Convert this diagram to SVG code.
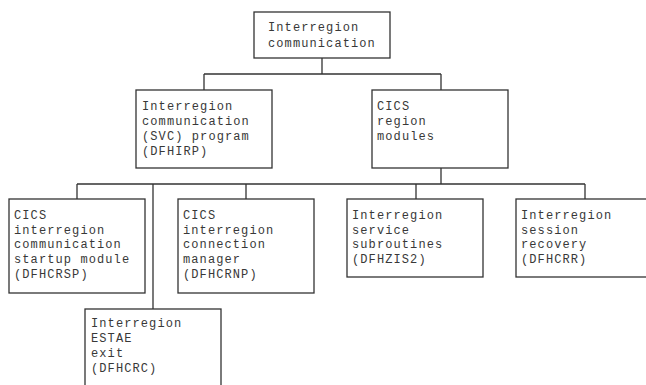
<svg xmlns="http://www.w3.org/2000/svg" width="646" height="385" viewBox="0 0 646 385">
<style>
.box{fill:#fff;stroke:#333;stroke-width:1.3}
.c{fill:none;stroke:#333;stroke-width:1.3}
text{font-family:"Liberation Mono","DejaVu Sans Mono",monospace;font-size:12px;letter-spacing:1.1px;fill:#383838}
</style>
<rect width="646" height="385" fill="#fff"/>
<g id="connectors">
<path class="c" d="M322,58V74M204,74H441M204,74V90M441,74V90M441,168V184M77,184H585M77,184V199M153,184V309M246,184V199M416,184V199M585,184V199"/>
</g>
<g id="n-top"><rect class="box" x="254" y="12" width="136" height="46"/>
<text x="268" y="31">Interregion</text><text x="268" y="46.5">communication</text></g>
<g id="n-irp"><rect class="box" x="136" y="90" width="136" height="78"/>
<text x="142" y="110">Interregion</text><text x="142" y="125">communication</text><text x="142" y="140">(SVC) program</text><text x="142" y="155">(DFHIRP)</text></g>
<g id="n-region"><rect class="box" x="372" y="90" width="136" height="78"/>
<text x="377" y="110">CICS</text><text x="377" y="125">region</text><text x="377" y="140">modules</text></g>
<g id="n-crsp"><rect class="box" x="9" y="199" width="136" height="94"/>
<text x="14" y="219">CICS</text><text x="14" y="233.7">interregion</text><text x="14" y="248.4">communication</text><text x="14" y="263.1">startup module</text><text x="14" y="277.8">(DFHCRSP)</text></g>
<g id="n-crnp"><rect class="box" x="178" y="199" width="136" height="94"/>
<text x="183" y="219">CICS</text><text x="183" y="233.7">interregion</text><text x="183" y="248.4">connection</text><text x="183" y="263.1">manager</text><text x="183" y="277.8">(DFHCRNP)</text></g>
<g id="n-zis2"><rect class="box" x="347" y="199" width="136" height="78"/>
<text x="352" y="219">Interregion</text><text x="352" y="233.7">service</text><text x="352" y="248.4">subroutines</text><text x="352" y="263.1">(DFHZIS2)</text></g>
<g id="n-crr"><rect class="box" x="516" y="199" width="136" height="78"/>
<text x="521" y="219">Interregion</text><text x="521" y="233.7">session</text><text x="521" y="248.4">recovery</text><text x="521" y="263.1">(DFHCRR)</text></g>
<g id="n-crc"><rect class="box" x="85" y="309" width="136" height="90"/>
<text x="91" y="327">Interregion</text><text x="91" y="342">ESTAE</text><text x="91" y="357">exit</text><text x="91" y="372">(DFHCRC)</text></g>
</svg>
